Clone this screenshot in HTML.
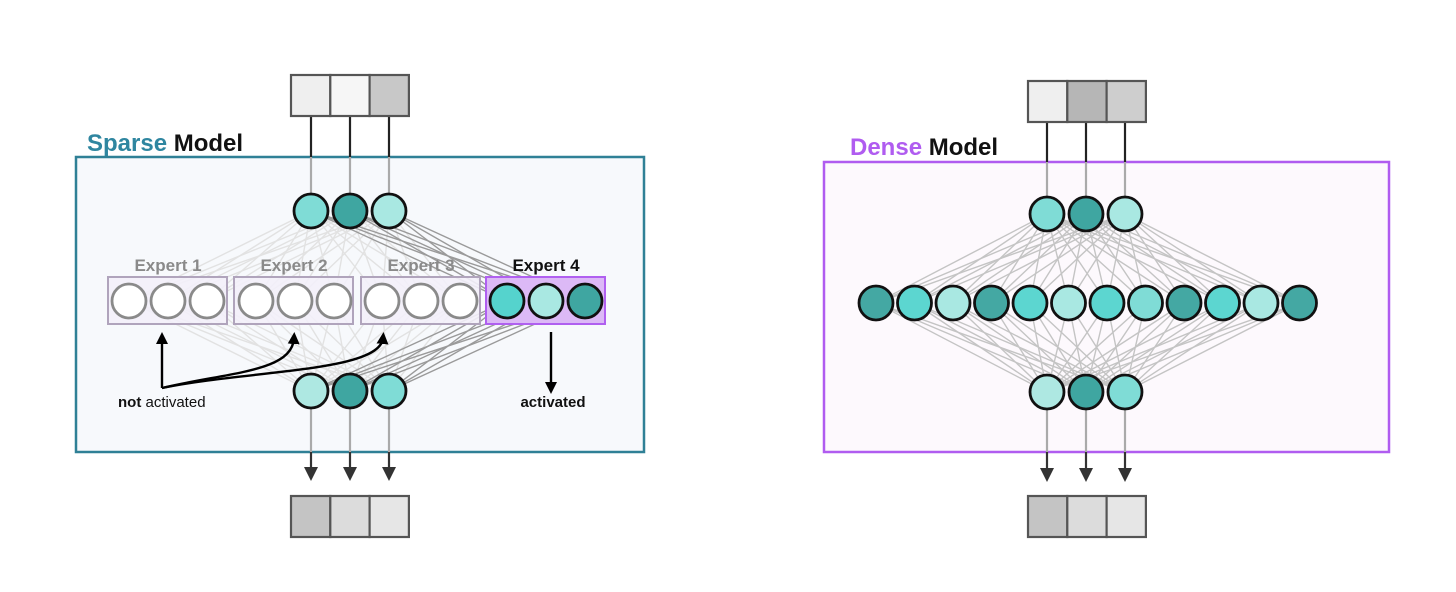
<!DOCTYPE html>
<html><head><meta charset="utf-8"><style>
html,body{margin:0;padding:0;background:#fff;}
svg{display:block;font-family:"Liberation Sans",sans-serif;}
</style></head><body>
<svg id="s" width="1456" height="592" xmlns="http://www.w3.org/2000/svg">
<defs>
<marker id="ah" markerWidth="12" markerHeight="12" refX="6" refY="6" orient="auto" markerUnits="userSpaceOnUse"><path d="M0,0 L12,6 L0,12 z" fill="#000"/></marker>
<marker id="ah2" markerWidth="14" markerHeight="14" refX="7" refY="7" orient="auto" markerUnits="userSpaceOnUse"><path d="M0,0 L14,7 L0,14 z" fill="#333"/></marker>
</defs>
<rect x="76" y="157" width="568" height="295" fill="#f7f9fc" stroke="#2f8096" stroke-width="2.5"/>
<text x="87" y="151" font-size="24" font-weight="bold"><tspan fill="#2f86a0">Sparse</tspan><tspan fill="#111"> Model</tspan></text>
<g id="sparseLines"></g>
<rect x="824" y="162" width="565" height="290" fill="#fdf9fd" stroke="#b05cf0" stroke-width="2.5"/>
<text x="850" y="155" font-size="24" font-weight="bold"><tspan fill="#b05cf0">Dense</tspan><tspan fill="#111"> Model</tspan></text>
<g id="denseLines"></g>
<g id="fg"></g>
</svg>
<script>
var NS="http://www.w3.org/2000/svg";
function el(p,t,a){var e=document.createElementNS(NS,t);for(var k in a)e.setAttribute(k,a[k]);p.appendChild(e);return e;}
var fg=document.getElementById('fg'),sl=document.getElementById('sparseLines'),dl=document.getElementById('denseLines');
function ln(p,x1,y1,x2,y2,c,w,m){var a={x1:x1,y1:y1,x2:x2,y2:y2,stroke:c,'stroke-width':w};if(m)a['marker-end']=m;el(p,'line',a);}
function circ(x,y,f,sc){el(fg,'circle',{cx:x,cy:y,r:17,fill:f,stroke:sc||'#111','stroke-width':2.8});}
function box(x,y,cols){for(var i=0;i<3;i++)el(fg,'rect',{x:x+i*39.3,y:y,width:39.3,height:41,fill:cols[i],stroke:'#555','stroke-width':2.2});}
var sx=[311,350,389];
var ex=[[129,168,207],[256,295,334],[382,421,460],[507,546,585]];
for(var e=0;e<4;e++)for(var j=0;j<3;j++)for(var i=0;i<3;i++){
 var c=e==3?'#9a9a9a':'#e2e2e2';
 ln(sl,sx[i],211,ex[e][j],301,c,1.4);ln(sl,sx[i],391,ex[e][j],301,c,1.4);}
for(var i=0;i<3;i++){ln(fg,sx[i],116,sx[i],157,'#222',2.2);ln(fg,sx[i],157,sx[i],211,'#aaa',2.2);
 ln(fg,sx[i],391,sx[i],452,'#aaa',2.2);ln(fg,sx[i],452,sx[i],474,'#333',2.2,'url(#ah2)');}
box(291,75,['#efefef','#f6f6f6','#c8c8c8']);
box(291,496,['#c4c4c4','#dcdcdc','#e6e6e6']);
var tc=['#7fdcd6','#3fa6a1','#a9e8e2'],bc=['#aee8e2','#3fa6a1','#7fdcd6'];
for(var i=0;i<3;i++){circ(sx[i],211,tc[i]);circ(sx[i],391,bc[i]);}
var bx=[108,234,361,486];
for(var e=0;e<4;e++){
 el(fg,'rect',{x:bx[e],y:277,width:119,height:47,fill:e==3?'#dcb9f6':'#f3effa','fill-opacity':e==3?1:0.9,stroke:e==3?'#b060f0':'#b0a4bc','stroke-width':2});
 var t=el(fg,'text',{x:bx[e]+60,y:271,'font-size':17,'font-weight':'bold','text-anchor':'middle',fill:e==3?'#111':'#8a8a8a'});t.textContent='Expert '+(e+1);
 for(var j=0;j<3;j++){if(e<3)circ(ex[e][j],301,'#fff','#8a8a8a');else circ(ex[e][j],301,['#55d3cd','#a9e8e2','#3fa6a1'][j]);}
}
el(fg,'path',{d:'M162,388 L162,338',stroke:'#000','stroke-width':2.4,fill:'none','marker-end':'url(#ah)'});
el(fg,'path',{d:'M162,388 C230,372 292,372 294,338',stroke:'#000','stroke-width':2.4,fill:'none','marker-end':'url(#ah)'});
el(fg,'path',{d:'M162,388 C250,370 380,372 383,338',stroke:'#000','stroke-width':2.4,fill:'none','marker-end':'url(#ah)'});
el(fg,'path',{d:'M551,332 L551,388',stroke:'#000','stroke-width':2.4,fill:'none','marker-end':'url(#ah)'});
var t=el(fg,'text',{x:118,y:407,'font-size':15,fill:'#111'});t.innerHTML='<tspan font-weight="bold">not</tspan> activated';
t=el(fg,'text',{x:553,y:407,'font-size':15,'font-weight':'bold','text-anchor':'middle',fill:'#111'});t.textContent='activated';
var dx=[1047,1086,1125];
var mc=['#44a8a3','#5cd6d0','#a9e8e2','#44a8a3','#5cd6d0','#a9e8e2','#5cd6d0','#7fdcd6','#44a8a3','#5cd6d0','#a9e8e2','#44a8a3'];
var mx=[];for(var k=0;k<12;k++)mx.push(876+k*38.5);
for(var k=0;k<12;k++)for(var i=0;i<3;i++){ln(dl,dx[i],214,mx[k],303,'#c4c4c4',1.4);ln(dl,dx[i],392,mx[k],303,'#c4c4c4',1.4);}
for(var i=0;i<3;i++){ln(fg,dx[i],121,dx[i],162,'#222',2.2);ln(fg,dx[i],162,dx[i],214,'#aaa',2.2);
 ln(fg,dx[i],392,dx[i],452,'#aaa',2.2);ln(fg,dx[i],452,dx[i],475,'#333',2.2,'url(#ah2)');}
box(1028,81,['#efefef','#b6b6b6','#cecece']);
box(1028,496,['#c4c4c4','#dcdcdc','#e6e6e6']);
var dtc=['#7fdcd6','#3fa6a1','#a9e8e2'],dbc=['#aee8e2','#3fa6a1','#7fdcd6'];
for(var i=0;i<3;i++){circ(dx[i],214,dtc[i]);circ(dx[i],392,dbc[i]);}
for(var k=0;k<12;k++)circ(mx[k],303,mc[k]);
</script>
</body></html>
